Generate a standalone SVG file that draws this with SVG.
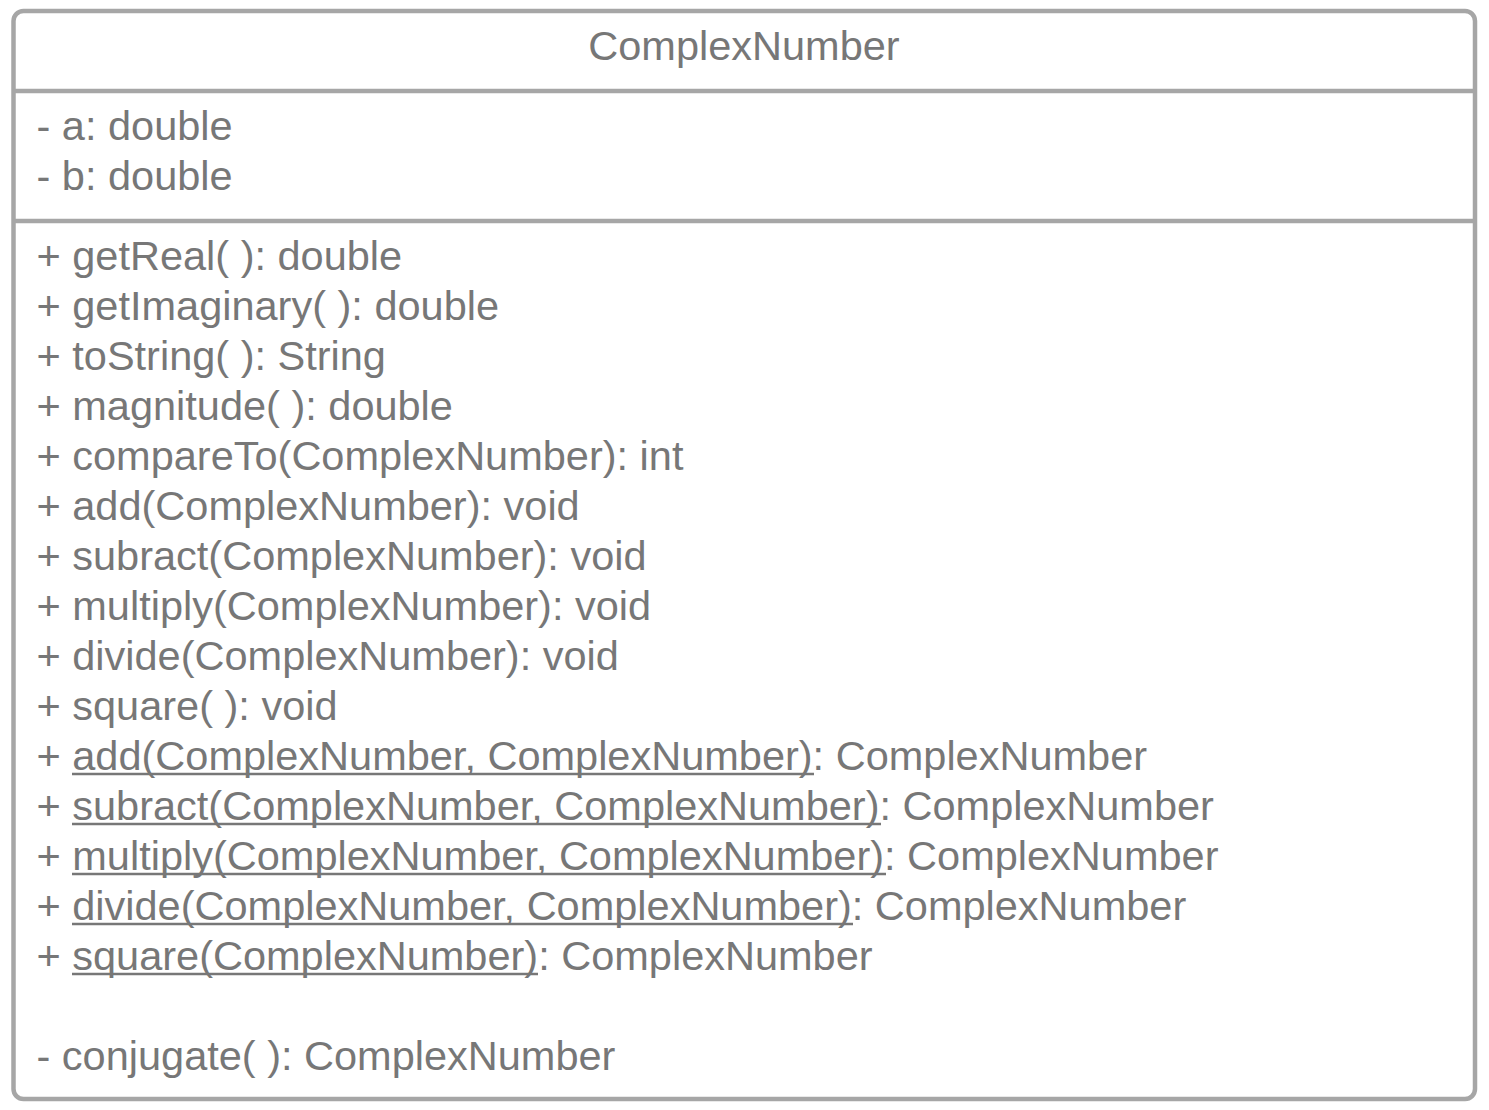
<svg xmlns="http://www.w3.org/2000/svg" width="1489" height="1110" viewBox="0 0 1489 1110">
  <style>
    .frame { fill: #ffffff; stroke: #a6a6a6; stroke-width: 4.5; }
    .rule { stroke: #a6a6a6; stroke-width: 4.5; }
    .t { font-family: "Liberation Sans", Arial, sans-serif; font-size: 41.5px; fill: #777777; }
    .ul { stroke: #777777; stroke-width: 2.5; }
  </style>
  <rect width="1489" height="1110" fill="#ffffff"/>
  <g id="ComplexNumber">
    <rect class="frame" x="13.5" y="11" width="1461.5" height="1088" rx="10" ry="10"/>
    <line class="rule" x1="13.5" y1="91" x2="1475" y2="91"/>
    <line class="rule" x1="13.5" y1="221" x2="1475" y2="221"/>
    <text class="t" x="744" y="60" text-anchor="middle">ComplexNumber</text>
    <!-- attributes -->
    <text class="t" x="36.5" y="140">- a: double</text>
    <text class="t" x="36.5" y="190">- b: double</text>
    <!-- operations -->
    <text class="t" x="36.5" y="270">+ getReal( ): double</text>
    <text class="t" x="36.5" y="320">+ getImaginary( ): double</text>
    <text class="t" x="36.5" y="370">+ toString( ): String</text>
    <text class="t" x="36.5" y="420">+ magnitude( ): double</text>
    <text class="t" x="36.5" y="470">+ compareTo(ComplexNumber): int</text>
    <text class="t" x="36.5" y="520">+ add(ComplexNumber): void</text>
    <text class="t" x="36.5" y="570">+ subract(ComplexNumber): void</text>
    <text class="t" x="36.5" y="620">+ multiply(ComplexNumber): void</text>
    <text class="t" x="36.5" y="670">+ divide(ComplexNumber): void</text>
    <text class="t" x="36.5" y="720">+ square( ): void</text>
    <text class="t" x="36.5" y="770">+ add(ComplexNumber, ComplexNumber): ComplexNumber</text>
    <text class="t" x="36.5" y="820">+ subract(ComplexNumber, ComplexNumber): ComplexNumber</text>
    <text class="t" x="36.5" y="870">+ multiply(ComplexNumber, ComplexNumber): ComplexNumber</text>
    <text class="t" x="36.5" y="920">+ divide(ComplexNumber, ComplexNumber): ComplexNumber</text>
    <text class="t" x="36.5" y="970">+ square(ComplexNumber): ComplexNumber</text>
    <text class="t" x="36.5" y="1070">- conjugate( ): ComplexNumber</text>
    <!-- underlines marking the static operations -->
    <line class="ul" x1="72" y1="774" x2="814" y2="774"/>
    <line class="ul" x1="72" y1="824" x2="881" y2="824"/>
    <line class="ul" x1="72" y1="874" x2="886" y2="874"/>
    <line class="ul" x1="72" y1="924" x2="853" y2="924"/>
    <line class="ul" x1="72" y1="974" x2="538" y2="974"/>
  </g>
  <g id="connectors"/>
</svg>
